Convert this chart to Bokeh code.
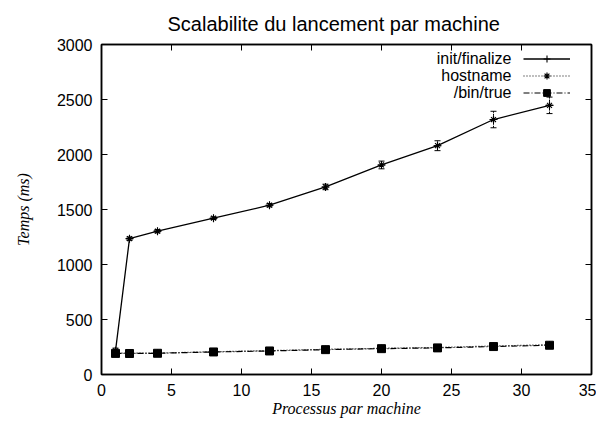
from bokeh.plotting import figure
from bokeh.models import (ColumnDataSource, Whisker, TeeHead, LinearAxis, Legend,
                          LegendItem, Label, Range1d, FixedTicker, CustomJSTickFormatter)
from bokeh.core.properties import value
from bokeh.embed import file_html
from bokeh.resources import INLINE

# ---------------- data ----------------
chart_title = "Scalabilite du lancement par machine"
x_label = "Processus par machine"
y_label = "Temps (ms)"
series_names = ["init/finalize", "hostname", "/bin/true"]

procs = [1, 2, 4, 8, 12, 16, 20, 24, 28, 32]
init_finalize = [215, 1235, 1303, 1421, 1539, 1705, 1905, 2080, 2318, 2447]
init_finalize_err = [25, 15, 15, 12, 15, 25, 35, 45, 75, 75]
hostname = [196, 193, 195, 207, 217, 229, 238, 246, 259, 271]
hostname_err = [8, 6, 6, 6, 6, 6, 8, 8, 10, 12]
bin_true = [192, 191, 193, 205, 214, 226, 235, 242, 254, 266]
bin_true_err = [10, 6, 6, 6, 6, 6, 8, 8, 10, 15]

x_ticks = [0, 5, 10, 15, 20, 25, 30, 35]
y_ticks = [0, 500, 1000, 1500, 2000, 2500, 3000]

SANS = "Liberation Sans"
SERIF = "Liberation Serif"

p = figure(frame_width=490, frame_height=330, output_backend="svg", toolbar_location=None,
           x_range=Range1d(0, 35), y_range=Range1d(0, 3000),
           min_border_left=101, min_border_right=5, min_border_top=43, min_border_bottom=45)
p.background_fill_color = "white"
p.border_fill_color = "white"
p.outline_line_color = "black"
p.outline_line_width = 1.5
p.xgrid.visible = False
p.ygrid.visible = False

p.title.text = chart_title
p.title.align = "left"
p.title.offset = 66
p.title.standoff = 20
p.title.text_font = SANS
p.title.text_font_size = "20px"
p.title.text_font_style = "normal"
p.title.text_color = "black"

def style_axis(ax, ticks, labels=True):
    ax.ticker = FixedTicker(ticks=ticks)
    ax.major_tick_in = 6
    ax.major_tick_out = 0
    ax.minor_tick_line_color = None
    ax.axis_line_color = "black"
    ax.axis_line_width = 1.5
    ax.major_tick_line_color = "black"
    ax.major_tick_line_width = 1
    ax.major_label_text_font = SANS
    ax.major_label_text_font_size = "16px"
    ax.major_label_text_color = "black"
    if not labels:
        ax.formatter = CustomJSTickFormatter(code="return ''")
        ax.major_label_standoff = 0

xa = p.xaxis[0]
ya = p.yaxis[0]
style_axis(xa, x_ticks)
style_axis(ya, y_ticks)
xa.major_label_standoff = 9
ya.major_label_standoff = 9
xa.axis_label = x_label
ya.axis_label = y_label
for ax in (xa, ya):
    ax.axis_label_text_font = SERIF
    ax.axis_label_text_font_style = "italic"
    ax.axis_label_text_font_size = "16px"
    ax.axis_label_text_color = "black"
xa.axis_label_standoff = 1
ya.axis_label_standoff = 22

top_axis = LinearAxis()
style_axis(top_axis, x_ticks, labels=False)
p.add_layout(top_axis, "above")
right_axis = LinearAxis()
style_axis(right_axis, y_ticks, labels=False)
p.add_layout(right_axis, "right")

# ---------------- series ----------------
src_i = ColumnDataSource(dict(x=procs, y=init_finalize,
                              lo=[v - e for v, e in zip(init_finalize, init_finalize_err)],
                              hi=[v + e for v, e in zip(init_finalize, init_finalize_err)]))
src_h = ColumnDataSource(dict(x=procs, y=hostname,
                              lo=[v - e for v, e in zip(hostname, hostname_err)],
                              hi=[v + e for v, e in zip(hostname, hostname_err)]))
src_b = ColumnDataSource(dict(x=procs, y=bin_true,
                              lo=[v - e for v, e in zip(bin_true, bin_true_err)],
                              hi=[v + e for v, e in zip(bin_true, bin_true_err)]))

for src in (src_i, src_h, src_b):
    w = Whisker(source=src, base="x", upper="hi", lower="lo", dimension="height",
                line_color="black", line_width=1, line_dash="2 1",
                upper_head=TeeHead(size=6, line_color="black", line_width=1),
                lower_head=TeeHead(size=6, line_color="black", line_width=1))
    p.add_layout(w)

l_b = p.line("x", "y", source=src_b, line_color="black", line_width=1.2, line_dash="6 2 1 2")
m_b = p.scatter("x", "y", source=src_b, marker="square", size=8, fill_color="black", line_color="black")
l_h = p.line("x", "y", source=src_h, line_color="black", line_width=1.2, line_dash="1 2")
m_h = p.scatter("x", "y", source=src_h, marker="asterisk", size=7, line_color="black", line_width=1.2)
l_i = p.line("x", "y", source=src_i, line_color="black", line_width=1.3)
m_i = p.scatter("x", "y", source=src_i, marker="asterisk", size=7, line_color="black", line_width=1.1)
m_i2 = p.scatter("x", "y", source=src_i, marker="cross", size=8, line_color="black", line_width=1.1)

legend = Legend(items=[LegendItem(label=value(" "), renderers=[l_i, m_i2]),
                       LegendItem(label=value(" "), renderers=[l_h, m_h]),
                       LegendItem(label=value(" "), renderers=[l_b, m_b])],
                location=(422, 273), orientation="vertical",
                glyph_width=47, glyph_height=17, label_height=17, label_width=0,
                label_standoff=0, spacing=0, padding=0, margin=0,
                border_line_color=None, background_fill_alpha=0,
                label_text_font_size="16px")
p.add_layout(legend, "center")

for i, name in enumerate(series_names):
    p.add_layout(Label(x=410, y=316 - 17 * i, x_units="screen", y_units="screen",
                       text=name, text_align="right", text_baseline="middle",
                       text_font=SANS, text_font_size="16px", text_color="black"))

open("out.html", "w").write(file_html(p, INLINE))
